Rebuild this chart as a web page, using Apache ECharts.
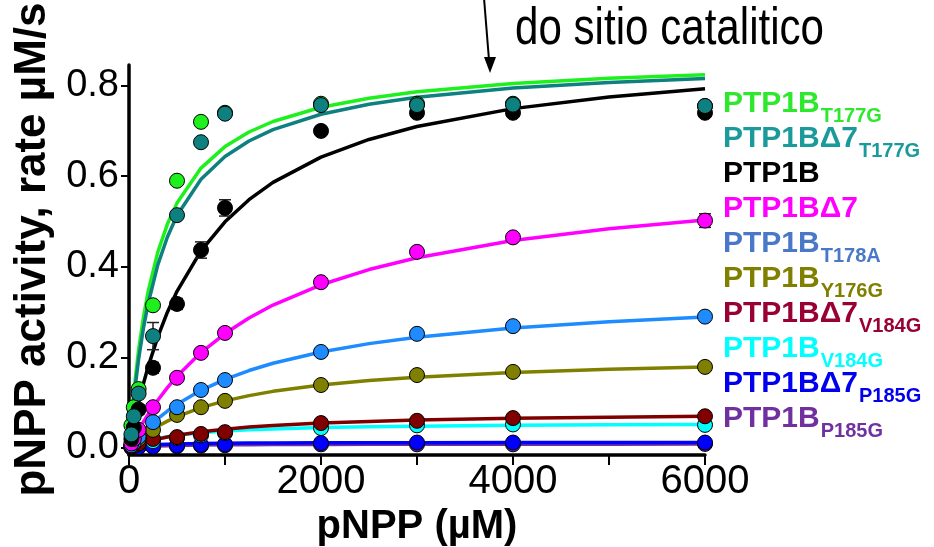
<!DOCTYPE html>
<html>
<head>
<meta charset="utf-8">
<script src="https://cdn.jsdelivr.net/npm/echarts@6/dist/echarts.min.js"></script>
<style>html,body{margin:0;padding:0;background:#fff}#c{width:934px;height:547px}</style>
</head>
<body>
<div id="c"></div>
<script>
// ---- data ----
const seriesNames = ['PTP1B_T177G','PTP1BΔ7_T177G','PTP1B','PTP1BΔ7','PTP1B_T178A','PTP1B_Y176G','PTP1BΔ7_V184G','PTP1B_V184G','PTP1BΔ7_P185G','PTP1B_P185G'];
const xPoints = [25, 50, 100, 250, 500, 750, 1000, 2000, 3000, 4000, 6000];
const xCurve = [0, 25, 50, 100, 150, 200, 300, 400, 500, 750, 1000, 1250, 1500, 2000, 2500, 3000, 4000, 5000, 6000];

const ptsT177G      = [0.05, 0.09, 0.13, 0.315, 0.59, 0.72, 0.74, 0.76, 0.76, 0.76, 0.755];
const ptsD7T177G    = [0.03, 0.07, 0.12, 0.247, 0.514, 0.675, 0.738, 0.757, 0.757, 0.758, 0.755];
const ptsWT         = [0.02, 0.045, 0.085, 0.177, 0.318, 0.437, 0.53, 0.70, 0.74, 0.74, 0.74];
const ptsD7         = [0.01, 0.02, 0.04, 0.09, 0.155, 0.21, 0.254, 0.366, 0.433, 0.465, 0.502];
const ptsT178A      = [0.006, 0.012, 0.025, 0.057, 0.09, 0.128, 0.15, 0.212, 0.252, 0.269, 0.29];
const ptsY176G      = [0.005, 0.01, 0.02, 0.04, 0.073, 0.09, 0.104, 0.139, 0.161, 0.168, 0.179];
const ptsD7V184G    = [0.003, 0.005, 0.01, 0.02, 0.024, 0.031, 0.035, 0.055, 0.06, 0.066, 0.07];
const ptsV184G      = [0.003, 0.005, 0.009, 0.015, 0.022, 0.028, 0.033, 0.044, 0.05, 0.052, 0.051];
const ptsD7P185G    = [0.001, 0.002, 0.002, 0.003, 0.005, 0.007, 0.008, 0.011, 0.012, 0.012, 0.012];
const ptsP185G      = [0.001, 0.001, 0.002, 0.003, 0.004, 0.005, 0.006, 0.008, 0.008, 0.008, 0.009];

const fitT177G   = [0, 0.0665, 0.1236, 0.2163, 0.2883, 0.346, 0.4325, 0.4943, 0.5406, 0.6179, 0.6654, 0.6976, 0.7208, 0.7522, 0.7723, 0.7864, 0.8047, 0.816, 0.8238];
const fitD7T177G = [0, 0.059, 0.1105, 0.1959, 0.2639, 0.3193, 0.4041, 0.4659, 0.5131, 0.5931, 0.6433, 0.6777, 0.7027, 0.7368, 0.7588, 0.7743, 0.7945, 0.8071, 0.8158];
const fitWT      = [0, 0.0272, 0.0529, 0.0999, 0.1419, 0.1798, 0.2452, 0.2997, 0.3458, 0.435, 0.4994, 0.5482, 0.5863, 0.6421, 0.6811, 0.7097, 0.7492, 0.775, 0.7932];
const fitD7      = [0, 0.0104, 0.0204, 0.0396, 0.0576, 0.0745, 0.1055, 0.1332, 0.1581, 0.2106, 0.2526, 0.2869, 0.3155, 0.3603, 0.3939, 0.42, 0.4579, 0.4841, 0.5033];
const fitT178A   = [0, 0.0065, 0.0128, 0.0247, 0.0358, 0.0461, 0.065, 0.0816, 0.0964, 0.1273, 0.1515, 0.171, 0.1871, 0.212, 0.2304, 0.2446, 0.2649, 0.2788, 0.289];
const fitY176G   = [0, 0.0051, 0.0099, 0.0188, 0.027, 0.0346, 0.0479, 0.0593, 0.0693, 0.0891, 0.104, 0.1156, 0.125, 0.1389, 0.1489, 0.1564, 0.1669, 0.1739, 0.1789];
const fitD7V184G = [0, 0.0021, 0.0041, 0.0077, 0.0111, 0.0141, 0.0195, 0.0241, 0.028, 0.0358, 0.0416, 0.0461, 0.0497, 0.055, 0.0587, 0.0616, 0.0655, 0.0681, 0.07];
const fitV184G   = [0, 0.0026, 0.0051, 0.0093, 0.0129, 0.0159, 0.0209, 0.0248, 0.028, 0.0336, 0.0374, 0.0401, 0.0421, 0.045, 0.0469, 0.0482, 0.05, 0.0512, 0.052];
const fitD7P185G = [0, 0.0014, 0.0025, 0.0042, 0.0054, 0.0063, 0.0075, 0.0083, 0.0089, 0.0099, 0.0104, 0.0108, 0.011, 0.0114, 0.0116, 0.0117, 0.0119, 0.012, 0.0121];
const fitP185G   = [0, 0.0007, 0.0013, 0.0023, 0.003, 0.0036, 0.0045, 0.0051, 0.0056, 0.0064, 0.0069, 0.0073, 0.0075, 0.0078, 0.008, 0.0082, 0.0084, 0.0085, 0.0086];

// standard errors (aligned with xPoints)
const errWT      = [0, 0, 0.01, 0.012, 0.012, 0.018, 0.018, 0, 0, 0, 0];
const errD7T177G = [0, 0, 0, 0.03, 0, 0, 0, 0, 0, 0, 0];
const errD7      = [0, 0, 0, 0, 0, 0, 0, 0, 0.008, 0, 0.015];

const yTicks = [0, 0.2, 0.4, 0.6, 0.8];

// ---- styling ----
const lineColors   = ['#1ef01e', '#0e8080', '#000000', '#ff00ff', '#1e8cff', '#808000', '#800000', '#00ffff', '#0000ff', '#7030a0'];
const legendColors = ['#2ee82e', '#1a9a9a', '#000000', '#ff00ff', '#4a78c8', '#7f7f00', '#990033', '#00ffff', '#0000ee', '#7030a0'];
const ptsArr = [ptsT177G, ptsD7T177G, ptsWT, ptsD7, ptsT178A, ptsY176G, ptsD7V184G, ptsV184G, ptsD7P185G, ptsP185G];
const fitArr = [fitT177G, fitD7T177G, fitWT, fitD7, fitT178A, fitY176G, fitD7V184G, fitV184G, fitD7P185G, fitP185G];

const series = [];
const curveOrder = [0, 1, 2, 3, 4, 5, 7, 6, 9, 8];
curveOrder.forEach(function (i) {
  series.push({
    name: seriesNames[i], type: 'line', smooth: false,
    showSymbol: false, symbol: 'none', silent: true, z: 2,
    lineStyle: { color: lineColors[i], width: 3.5, join: 'round' },
    itemStyle: { color: lineColors[i] },
    data: xCurve.map(function (x, k) { return [x, fitArr[i][k]]; })
  });
});
function errSeries(err, idx) {
  const d = [];
  xPoints.forEach(function (x, k) { if (err[k] > 0) d.push([x, ptsArr[idx][k] - err[k], ptsArr[idx][k] + err[k]]); });
  return {
    type: 'custom', z: 3, silent: true,
    renderItem: function (params, api) {
      const x = api.value(0);
      const p1 = api.coord([x, api.value(2)]);
      const p2 = api.coord([x, api.value(1)]);
      const w = 6, st = { stroke: '#222', lineWidth: 1.5 };
      return { type: 'group', children: [
        { type: 'line', shape: { x1: p1[0], y1: p1[1], x2: p2[0], y2: p2[1] }, style: st },
        { type: 'line', shape: { x1: p1[0] - w, y1: p1[1], x2: p1[0] + w, y2: p1[1] }, style: st },
        { type: 'line', shape: { x1: p2[0] - w, y1: p2[1], x2: p2[0] + w, y2: p2[1] }, style: st }
      ]};
    },
    data: d
  };
}
series.push(errSeries(errWT, 2), errSeries(errD7T177G, 1), errSeries(errD7, 3));
const ptOrder = [9, 8, 7, 6, 5, 4, 3, 0, 2, 1];
ptOrder.forEach(function (i) {
  series.push({
    name: seriesNames[i] + ' data', type: 'scatter', symbol: 'circle', symbolSize: 15, z: 4,
    itemStyle: { color: lineColors[i], borderColor: '#000', borderWidth: 1, opacity: 1 },
    data: xPoints.map(function (x, k) { return [x, ptsArr[i][k]]; })
  });
});

const chart = echarts.init(document.getElementById('c'), null, { renderer: 'canvas' });
chart.setOption({
  animation: false,
  backgroundColor: '#ffffff',
  grid: { left: 129, right: 229, top: 65, bottom: 92, containLabel: false, outerBoundsMode: 'none' },
  xAxis: {
    type: 'value', min: 0, max: 6000, interval: 1000,
    name: 'pNPP (µM)', nameLocation: 'middle', nameGap: 52,
    nameTextStyle: { fontFamily: 'Liberation Sans, Arial', fontWeight: 'bold', fontSize: 40, color: '#000' },
    axisLine: { onZero: false, lineStyle: { color: '#000', width: 3.5 } },
    axisTick: { length: 10, lineStyle: { color: '#000', width: 2 } },
    axisLabel: { interval: 1, margin: 7, fontFamily: 'Liberation Sans, Arial', fontSize: 40, color: '#000',
      formatter: function (v) { return v % 2000 === 0 ? String(v) : ''; } },
    splitLine: { show: false }
  },
  yAxis: {
    type: 'value', min: -0.0155, max: 0.8455,
    name: 'pNPP activity, rate µM/s', nameLocation: 'middle', nameGap: 62, nameRotate: 90,
    nameTextStyle: { fontFamily: 'Liberation Sans, Arial', fontWeight: 'bold', fontSize: 44, color: '#000', padding: [0, 0, 0, 21] },
    axisLine: { onZero: false, lineStyle: { color: '#000', width: 3.5 } },
    axisTick: { length: 8, customValues: yTicks, lineStyle: { color: '#000', width: 2 } },
    axisLabel: { margin: 10, customValues: yTicks, fontFamily: 'Liberation Sans, Arial', fontSize: 38, color: '#000',
      formatter: function (v) { return Number(v).toFixed(1); } },
    splitLine: { show: false }
  },
  legend: {
    orient: 'vertical', left: 718, top: 89, padding: 0, itemGap: -2,
    icon: 'none', itemWidth: 0, itemHeight: 0, selectedMode: false,
    data: seriesNames.map(function (n, i) { return { name: n, textStyle: { color: legendColors[i] } }; }),
    formatter: function (name) {
      const parts = name.split('_');
      return '{m|' + parts[0] + '}{s|' + (parts[1] || ' ') + '}';
    },
    textStyle: {
      fontFamily: 'Liberation Sans, Arial', fontWeight: 'bold',
      rich: {
        m: { fontSize: 30, fontWeight: 'bold', lineHeight: 30, verticalAlign: 'top', fontFamily: 'Liberation Sans, Arial' },
        s: { fontSize: 20, fontWeight: 'bold', lineHeight: 20, verticalAlign: 'top', padding: [17, 0, 0, 1], fontFamily: 'Liberation Sans, Arial' }
      }
    }
  },
  graphic: [
    { type: 'text', x: 515, y: 4, scaleX: 0.81, silent: true,
      style: { text: 'do sitio catalitico', fontFamily: 'Liberation Sans, Arial', fontSize: 52, fill: '#000', textAlign: 'left', textVerticalAlign: 'top' } },
    { type: 'line', silent: true, shape: { x1: 484, y1: -2, x2: 489, y2: 60 }, style: { stroke: '#000', lineWidth: 2 } },
    { type: 'polygon', silent: true, shape: { points: [[484, 57], [496, 57], [490, 73]] }, style: { fill: '#000' } }
  ],
  series: series
});
</script>
</body>
</html>
